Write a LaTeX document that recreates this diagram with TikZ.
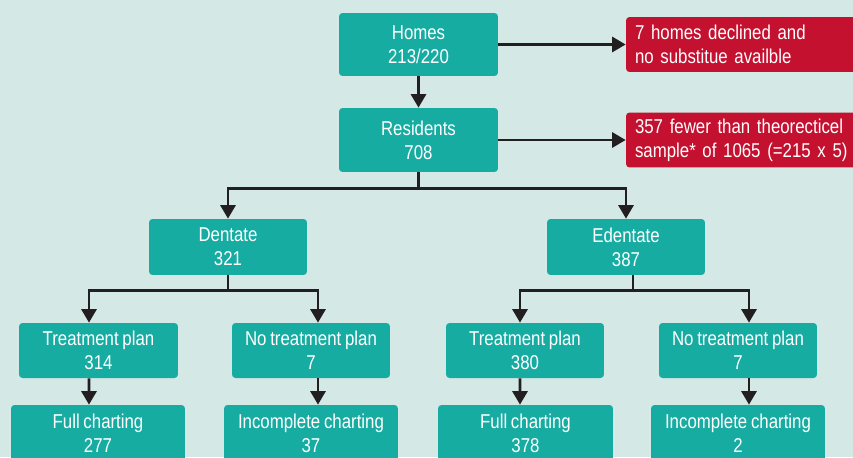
\documentclass[tikz,border=0pt]{standalone}
\usepackage{fontspec}
\setmainfont{Liberation Sans}[FakeStretch=0.84, WordSpace=0.8]
\usetikzlibrary{arrows.meta,positioning,calc}
\definecolor{bgmint}{HTML}{D4E8E6}
\definecolor{boxteal}{HTML}{17ACA2}
\definecolor{notered}{HTML}{C41130}
\definecolor{arrowink}{HTML}{231F20}
\tikzset{
    flowbox/.style={fill=boxteal, rounded corners=2pt, align=center, text=white,
        font=\fontsize{11.4}{13.7}\selectfont, inner sep=0pt, minimum height=1.12cm},
    notebox/.style={fill=notered, rounded corners=2pt, align=left, text=white,
        font=\fontsize{11.4}{13.7}\selectfont, inner xsep=0.18cm, inner ysep=0pt,
        text width=4.44cm, minimum height=1.1cm},
    flowarrow/.style={-{Triangle[length=0.27cm, width=0.3cm]}, line width=1.6pt, draw=arrowink}
}

\begin{document}
\begin{tikzpicture}[x=0.02cm, y=-0.02cm]
\fill[bgmint] (0,0) rectangle (853,457);
\useasboundingbox (0,0) rectangle (853,457);
% top of the chart
\node[flowbox, minimum width=3.18cm, minimum height=1.26cm] (homes) at (418.5,44.5) {Homes\\213/220};
\node[flowbox, minimum width=3.18cm, minimum height=1.28cm] (residents) at (418.5,140) {Residents\\708};
\node[notebox] (declined) at (746,44.5) {7 homes declined and\\no substitue availble};
\node[notebox] (fewer) at (746,140) {357 fewer than theorecticel\\sample* of 1065 (=215 x 5)};
% dentate / edentate
\node[flowbox, minimum width=3.16cm] (dentate) at (228,247) {Dentate\\321};
\node[flowbox, minimum width=3.16cm] (edentate) at (626,247) {Edentate\\387};
% treatment plans
\node[flowbox, minimum width=3.18cm, minimum height=1.1cm] (dplan) at (98.5,350.5) {Treatment plan\\314};
\node[flowbox, minimum width=3.16cm, minimum height=1.1cm] (dnoplan) at (311,350.5) {No treatment plan\\7};
\node[flowbox, minimum width=3.16cm, minimum height=1.1cm] (eplan) at (525,350.5) {Treatment plan\\380};
\node[flowbox, minimum width=3.16cm, minimum height=1.1cm] (enoplan) at (738,350.5) {No treatment plan\\7};
% charting
\node[flowbox, minimum width=3.48cm] (dfull) at (98,433) {Full charting\\277};
\node[flowbox, minimum width=3.48cm] (dinc) at (311,433) {Incomplete charting\\37};
\node[flowbox, minimum width=3.5cm] (efull) at (525.5,433) {Full charting\\378};
\node[flowbox, minimum width=3.48cm] (einc) at (738,433) {Incomplete charting\\2};
% connectors
\draw[flowarrow] (homes) -- (residents);
\draw[flowarrow] (homes) -- (declined);
\draw[flowarrow] (residents) -- (fewer);
\draw[flowarrow] (residents.south) -- ++(0,16) -| (dentate.north);
\draw[flowarrow] (residents.south) -- ++(0,16) -| (edentate.north);
\draw[flowarrow] (dentate.south) -- ++(0,15) -| ([xshift=-0.19cm]dplan.north);
\draw[flowarrow] (dentate.south) -- ++(0,15) -| ([xshift=0.14cm]dnoplan.north);
\draw[flowarrow] ([xshift=0.14cm]edentate.south) -- ++(0,15) -| ([xshift=-0.1cm]eplan.north);
\draw[flowarrow] ([xshift=0.14cm]edentate.south) -- ++(0,15) -| ([xshift=0.22cm]enoplan.north);
\draw[flowarrow] ([xshift=-0.19cm]dplan.south) -- ([xshift=-0.18cm]dfull.north);
\draw[flowarrow] ([xshift=0.14cm]dnoplan.south) -- ([xshift=0.14cm]dinc.north);
\draw[flowarrow] ([xshift=-0.1cm]eplan.south) -- ([xshift=-0.11cm]efull.north);
\draw[flowarrow] ([xshift=0.22cm]enoplan.south) -- ([xshift=0.22cm]einc.north);
\end{tikzpicture}
\end{document}
